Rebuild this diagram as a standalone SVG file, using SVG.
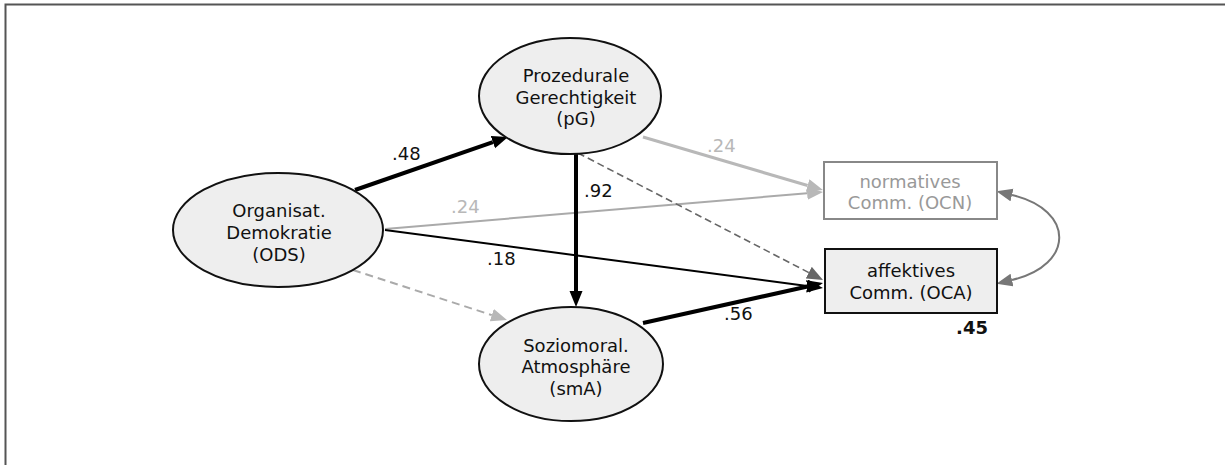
<svg xmlns="http://www.w3.org/2000/svg" width="1225" height="465" viewBox="0 0 1225 465">
<style>
text{font-family:"DejaVu Sans",Verdana,sans-serif;font-size:18px;fill:#111;text-anchor:middle}
.node ellipse,.node rect{fill:#eeeeee;stroke:#111;stroke-width:2}
.lbl{text-anchor:start}
.lg{fill:#b8b8b8}
.gt{fill:#999}
.e{fill:none}
</style>
<defs>
<marker id="ab" markerUnits="userSpaceOnUse" markerWidth="16" markerHeight="14" refX="0" refY="6.5" orient="auto"><path d="M0,0 L16,6.5 L0,13 z" fill="#000"/></marker>
<marker id="al" markerUnits="userSpaceOnUse" markerWidth="16" markerHeight="14" refX="0" refY="6.5" orient="auto"><path d="M0,0 L16,6.5 L0,13 z" fill="#b8b8b8"/></marker>
<marker id="ad" markerUnits="userSpaceOnUse" markerWidth="16" markerHeight="14" refX="0" refY="6.5" orient="auto"><path d="M0,0 L16,6.5 L0,13 z" fill="#666"/></marker>
<marker id="am" markerUnits="userSpaceOnUse" markerWidth="16" markerHeight="14" refX="0" refY="6.5" orient="auto-start-reverse"><path d="M0,0 L16,6.5 L0,13 z" fill="#777"/></marker>
</defs>
<rect width="1225" height="465" fill="#fff"/>
<path d="M5.5,465 L5.5,4.5 L1225,4.5" fill="none" stroke="#555" stroke-width="2"/>
<g id="connectors">
<line class="e" x1="385" y1="229" x2="807.1" y2="193.3" stroke="#aaa" stroke-width="2" marker-end="url(#al)"/>
<line class="e" x1="643" y1="137" x2="807.6" y2="185.5" stroke="#b8b8b8" stroke-width="3" marker-end="url(#al)"/>
<line class="e" x1="353" y1="270" x2="491.8" y2="315.1" stroke="#aaa" stroke-width="2" stroke-dasharray="8,5" marker-end="url(#al)"/>
<line class="e" x1="578" y1="153" x2="808.8" y2="272.6" stroke="#666" stroke-width="1.6" stroke-dasharray="7,4" marker-end="url(#ad)"/>
<line class="e" x1="385" y1="230" x2="807.1" y2="286" stroke="#000" stroke-width="2" marker-end="url(#ab)"/>
<line class="e" x1="355" y1="190" x2="492.9" y2="142.2" stroke="#000" stroke-width="4" marker-end="url(#ab)"/>
<line class="e" x1="576" y1="154" x2="576" y2="291" stroke="#000" stroke-width="4" marker-end="url(#ab)"/>
<line class="e" x1="643" y1="323" x2="807.4" y2="286.5" stroke="#000" stroke-width="4" marker-end="url(#ab)"/>
<path class="e" d="M1012,195 C1075,210 1075,265 1012,280" stroke="#777" stroke-width="2" marker-start="url(#am)" marker-end="url(#am)"/>
<text class="lbl" x="392" y="160">.48</text>
<text class="lbl" x="584" y="197">.92</text>
<text class="lbl lg" x="707" y="152">.24</text>
<text class="lbl lg" x="451" y="213">.24</text>
<text class="lbl" x="487" y="265">.18</text>
<text class="lbl" x="724" y="320">.56</text>
</g>
<g id="ODS" class="node">
<ellipse cx="278" cy="230" rx="105" ry="57"/>
<text x="279" y="217">Organisat.</text>
<text x="279" y="239">Demokratie</text>
<text x="279" y="261">(ODS)</text>
</g>
<g id="pG" class="node">
<ellipse cx="570" cy="96" rx="91" ry="58"/>
<text x="576" y="82">Prozedurale</text>
<text x="576" y="104">Gerechtigkeit</text>
<text x="576" y="125">(pG)</text>
</g>
<g id="smA" class="node">
<ellipse cx="571" cy="364" rx="92" ry="57"/>
<text x="576" y="352">Soziomoral.</text>
<text x="576" y="373">Atmosphäre</text>
<text x="576" y="395">(smA)</text>
</g>
<g id="OCN" class="node">
<rect x="824" y="162" width="173" height="57" style="fill:#fff;stroke:#888"/>
<text class="gt" x="910" y="188">normatives</text>
<text class="gt" x="910" y="209">Comm. (OCN)</text>
</g>
<g id="OCA" class="node">
<rect x="825" y="249" width="172" height="64"/>
<text x="911" y="277">affektives</text>
<text x="911" y="299">Comm. (OCA)</text>
<text x="972" y="334" style="font-weight:bold">.45</text>
</g>
</svg>
